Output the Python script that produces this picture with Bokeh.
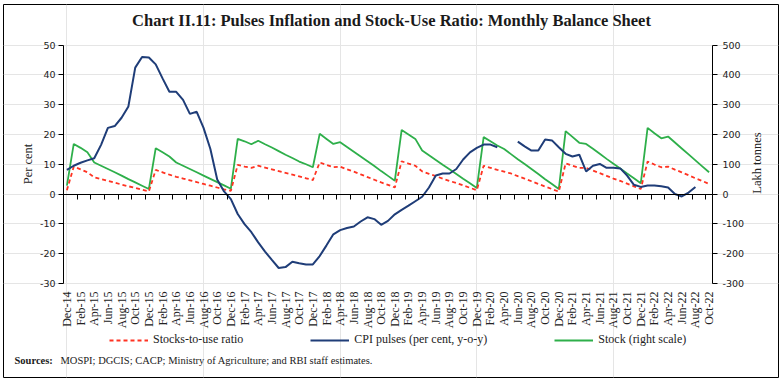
import math
from bokeh.plotting import figure
from bokeh.models import (Range1d, LinearAxis, FixedTicker, Legend, LegendItem,
                          Label, ColumnDataSource)
from bokeh.embed import file_html
from bokeh.resources import INLINE

# ---------------- data ----------------
months = [
    "Dec-14",
    "Jan-15", "Feb-15", "Mar-15", "Apr-15", "May-15", "Jun-15", "Jul-15", "Aug-15", "Sep-15", "Oct-15", "Nov-15", "Dec-15",
    "Jan-16", "Feb-16", "Mar-16", "Apr-16", "May-16", "Jun-16", "Jul-16", "Aug-16", "Sep-16", "Oct-16", "Nov-16", "Dec-16",
    "Jan-17", "Feb-17", "Mar-17", "Apr-17", "May-17", "Jun-17", "Jul-17", "Aug-17", "Sep-17", "Oct-17", "Nov-17", "Dec-17",
    "Jan-18", "Feb-18", "Mar-18", "Apr-18", "May-18", "Jun-18", "Jul-18", "Aug-18", "Sep-18", "Oct-18", "Nov-18", "Dec-18",
    "Jan-19", "Feb-19", "Mar-19", "Apr-19", "May-19", "Jun-19", "Jul-19", "Aug-19", "Sep-19", "Oct-19", "Nov-19", "Dec-19",
    "Jan-20", "Feb-20", "Mar-20", "Apr-20", "May-20", "Jun-20", "Jul-20", "Aug-20", "Sep-20", "Oct-20", "Nov-20", "Dec-20",
    "Jan-21", "Feb-21", "Mar-21", "Apr-21", "May-21", "Jun-21", "Jul-21", "Aug-21", "Sep-21", "Oct-21", "Nov-21", "Dec-21",
    "Jan-22", "Feb-22", "Mar-22", "Apr-22", "May-22", "Jun-22", "Jul-22", "Aug-22", "Sep-22", "Oct-22",
]

nan = float("nan")

# CPI pulses (per cent, y-o-y), left scale
cpi_pulses = [
    8.1,
    9.5, 10.5, 11.3, 12.0, 16.5, 22.2, 22.8, 25.6, 29.4, 42.4, 46.0, 45.8,
    43.5, 38.8, 34.3, 34.3, 31.6, 26.9, 27.6, 22.2, 15.1, 4.9, 0.9, -1.7,
    -6.7, -10.1, -12.8, -16.2, -19.3, -22.1, -24.8, -24.5, -22.7, -23.2, -23.6, -23.6,
    -20.8, -17.2, -13.5, -12.1, -11.4, -10.9, -9.2, -7.8, -8.4, -10.3, -9.0, -6.8,
    -5.3, -3.9, -2.4, -0.9, 2.2, 6.2, 6.9, 6.9, 8.4, 11.6, 14.0, 15.5,
    16.6, 16.6, 15.7, nan, nan, 17.6, 16.0, 14.6, 14.6, 18.3, 18.0, 15.7,
    13.5, 12.6, 13.2, 7.6, 9.5, 10.1, 8.8, 8.8, 8.6, 6.2, 3.1, 2.4,
    2.9, 2.9, 2.6, 2.2, 0.0, -0.8, 0.5, 2.4, nan, nan,
]

# Stocks-to-use ratio (per cent), left scale
stocks_to_use = [
    1.3,
    9.2, 8.3, 7.3, 5.6, 5.0, 4.4, 3.8, 3.2, 2.6, 2.1, 1.5, 0.9,
    8.1, 7.3, 6.5, 5.8, 5.2, 4.6, 4.0, 3.4, 2.8, 2.2, 1.6, 1.1,
    9.8, 9.2, 8.8, 9.5, 8.9, 8.3, 7.7, 7.1, 6.5, 5.9, 5.3, 4.7,
    10.6, 9.8, 9.0, 9.2, 8.3, 7.5, 6.6, 5.7, 4.8, 3.9, 3.1, 2.2,
    11.0, 10.2, 9.5, 7.6, 6.8, 6.0, 5.2, 4.4, 3.7, 2.9, 2.1, 1.3,
    9.5, 8.8, 8.1, 7.5, 6.9, 6.0, 5.2, 4.3, 3.4, 2.5, 1.7, 0.8,
    10.3, 9.5, 8.8, 8.8, 7.9, 7.0, 6.1, 5.2, 4.4, 3.5, 2.6, 1.7,
    10.9, 9.9, 9.0, 9.2, 8.2, 7.3, 6.3, 5.3, 4.4, 3.4,
]

# Stock (lakh tonnes), right scale
stock_lakh_tonnes = [
    28,
    168, 155, 140, 106, 95, 84, 73, 62, 50, 39, 28, 17,
    154, 140, 126, 106, 95, 84, 73, 62, 51, 40, 29, 18,
    185, 177, 167, 179, 167, 156, 144, 132, 121, 109, 100, 90,
    202, 185, 168, 174, 158, 142, 126, 110, 94, 77, 61, 45,
    215, 200, 185, 146, 130, 114, 98, 83, 67, 51, 36, 20,
    191, 177, 163, 151, 134, 117, 101, 84, 67, 50, 34, 17,
    211, 192, 172, 168, 152, 135, 118, 102, 86, 69, 53, 36,
    222, 204, 187, 193, 173, 153, 133, 113, 93, 73,
]

left_ticks = [-30, -20, -10, 0, 10, 20, 30, 40, 50]
right_ticks = [-300, -200, -100, 0, 100, 200, 300, 400, 500]

title_text = "Chart II.11: Pulses Inflation and Stock-Use Ratio: Monthly Balance Sheet"
legend_labels = ["Stocks-to-use ratio", "CPI pulses (per cent, y-o-y)", "Stock (right scale)"]
left_title = "Per cent"
right_title = "Lakh tonnes"
source_head = "Sources:"
source_body = "MOSPI; DGCIS; CACP; Ministry of Agriculture; and RBI staff estimates."

# ---------------- style / layout ----------------
RED = "#FF3322"
BLUE = "#1F3D78"
GREEN = "#2EAF4A"
TXT = "#222222"
SERIF = "Liberation Serif"
SANS = "DejaVu Sans"

W, H = 781, 380
FL, FT, FR, FB = 3, 4, 778, 377          # outer frame (the chart's border box), page px
PX_L, PX_R = 63.0, 712.0                 # plot area left / right (category edges)
PY_T, PY_B = 44.5, 283.0                 # plot area top (50) / bottom (-30)

n = len(months)
lo, hi = left_ticks[0], left_ticks[-1]
xpx = (PX_R - PX_L) / n
ypx = (PY_B - PY_T) / (hi - lo)
x_start = -0.5 - (PX_L - FL) / xpx
x_end = -0.5 + (FR - PX_L) / xpx
y_end = hi + (PY_T - FT) / ypx
y_start = lo - (FB - PY_B) / ypx
k = (right_ticks[-1] - right_ticks[0]) / (hi - lo)
off = right_ticks[0] - k * lo


def sx(px):
    return px - FL


def sy(py):
    return FB - py


x = list(range(n))
src = ColumnDataSource(dict(x=x, cpi=cpi_pulses, ratio=stocks_to_use, stock=stock_lakh_tonnes))

p = figure(width=W, height=H, output_backend="svg", toolbar_location=None,
           x_axis_location=None, y_axis_location=None,
           x_range=Range1d(x_start, x_end), y_range=Range1d(y_start, y_end),
           min_border_left=FL, min_border_top=FT, min_border_right=W - FR, min_border_bottom=H - FB)
p.outline_line_color = "black"
p.outline_line_width = 1
p.background_fill_color = "white"
p.border_fill_color = "white"
p.extra_y_ranges = {"stock": Range1d(k * y_start + off, k * y_end + off)}

# category labels at the bottom of the plot area
xa = LinearAxis(fixed_location=lo, ticker=FixedTicker(ticks=list(range(0, n, 2))))
xa.major_label_overrides = {i: months[i] for i in range(0, n, 2)}
xa.major_label_orientation = math.pi / 2
xa.axis_line_color = None
xa.major_tick_line_color = None
xa.minor_tick_line_color = None
xa.major_tick_out = 0
xa.major_tick_in = 0
xa.major_label_standoff = 8
xa.major_label_text_font = SERIF
xa.major_label_text_font_size = "12px"
xa.major_label_text_color = TXT
p.add_layout(xa, "below")

# category axis line at zero with ticks between pairs of months
edges = [i - 0.5 for i in range(0, n, 2)] + [n - 0.5]
za = LinearAxis(fixed_location=0, bounds=(-0.5, n - 0.5), ticker=FixedTicker(ticks=edges))
za.major_label_overrides = {e: "" for e in edges}
za.major_label_text_font_size = "1px"
za.axis_line_color = "black"
za.major_tick_line_color = "black"
za.minor_tick_line_color = None
za.major_tick_out = 5
za.major_tick_in = 0
p.add_layout(za, "below")

# left axis
ya = LinearAxis(fixed_location=-0.5, bounds=(lo, hi), ticker=FixedTicker(ticks=left_ticks))
ya.major_label_overrides = {t: str(t) for t in left_ticks}
ya.major_label_text_font = SANS
ya.major_label_text_font_size = "9.5px"
ya.major_label_text_color = TXT
ya.major_tick_out = 5
ya.major_tick_in = 0
ya.minor_tick_line_color = None
ya.major_label_standoff = 3
ya.axis_line_color = "black"
ya.major_tick_line_color = "black"
p.add_layout(ya, "left")

# right axis
ra = LinearAxis(y_range_name="stock", fixed_location=n - 0.5,
                bounds=(right_ticks[0], right_ticks[-1]), ticker=FixedTicker(ticks=right_ticks))
ra.major_label_overrides = {t: str(t) for t in right_ticks}
ra.major_label_text_font = SANS
ra.major_label_text_font_size = "9.5px"
ra.major_label_text_color = TXT
ra.major_tick_out = 5
ra.major_tick_in = 0
ra.minor_tick_line_color = None
ra.major_label_standoff = 5
ra.axis_line_color = "black"
ra.major_tick_line_color = "black"
p.add_layout(ra, "right")

# series
r_green = p.line("x", "stock", source=src, y_range_name="stock", line_color=GREEN, line_width=1.8)
r_red = p.line("x", "ratio", source=src, line_color=RED, line_width=1.8, line_dash="4 3")
r_blue = p.line("x", "cpi", source=src, line_color=BLUE, line_width=2)

legend = Legend(items=[LegendItem(label=legend_labels[0], renderers=[r_red]),
                       LegendItem(label=legend_labels[1], renderers=[r_blue]),
                       LegendItem(label=legend_labels[2], renderers=[r_green])],
                orientation="horizontal", location=(sx(109), sy(347)))
legend.label_text_font = SERIF
legend.label_text_font_size = "12px"
legend.label_text_color = TXT
legend.glyph_width = 39
legend.glyph_height = 12
legend.label_height = 14
legend.label_standoff = 5
legend.spacing = 67
legend.padding = 0
legend.margin = 0
legend.border_line_color = None
legend.background_fill_alpha = 0
p.add_layout(legend)

# texts
p.add_layout(Label(x=sx(391), y=sy(19.5), x_units="screen", y_units="screen", text=title_text,
                   text_font=SERIF, text_font_style="bold", text_font_size="16.5px",
                   text_align="center", text_baseline="middle", text_color="#1a1a1a"))
p.add_layout(Label(x=sx(27), y=sy(163.5), x_units="screen", y_units="screen", text=left_title,
                   angle=math.pi / 2, text_font=SERIF, text_font_size="12.5px",
                   text_align="center", text_baseline="middle", text_color=TXT))
p.add_layout(Label(x=sx(756), y=sy(162.5), x_units="screen", y_units="screen", text=right_title,
                   angle=math.pi / 2, text_font=SERIF, text_font_size="12.5px",
                   text_align="center", text_baseline="middle", text_color=TXT))
p.add_layout(Label(x=sx(14), y=sy(360), x_units="screen", y_units="screen", text=source_head,
                   text_font=SERIF, text_font_style="bold", text_font_size="10.5px",
                   text_align="left", text_baseline="middle", text_color="#1a1a1a"))
p.add_layout(Label(x=sx(60), y=sy(360), x_units="screen", y_units="screen", text=source_body,
                   text_font=SERIF, text_font_size="10.5px",
                   text_align="left", text_baseline="middle", text_color="#1a1a1a"))

open("out.html", "w").write(file_html(p, INLINE, "Chart II.11"))
